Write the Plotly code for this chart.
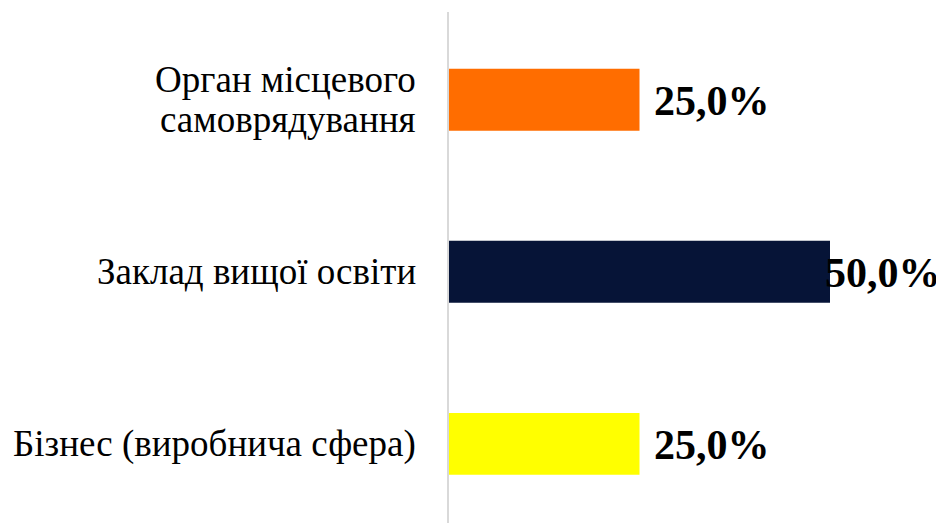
import plotly.graph_objects as go

categories = ["Бізнес (виробнича сфера)", "Заклад вищої освіти", "Орган місцевого<br>самоврядування"]
values = [0.25, 0.50, 0.25]
labels = ["25,0%", "50,0%", "25,0%"]
colors = ["#FFFF00", "#061437", "#FF6D00"]
label_shifts = [12, -7, 12]

FONT = "Liberation Serif, Times New Roman, serif"

fig = go.Figure()
fig.add_trace(go.Bar(
    y=list(range(len(categories))),
    x=values,
    orientation="h",
    marker=dict(color=colors, line=dict(width=0)),
    hoverinfo="skip",
))

# value labels
for i, (v, t, s) in enumerate(zip(values, labels, label_shifts)):
    fig.add_annotation(
        x=v, y=i, text=t, showarrow=False, xanchor="left", yanchor="middle",
        xshift=s, yshift=-1,
        font=dict(family=FONT, size=42, color="#000000", weight="bold"),
    )

# category labels (drawn as annotations to control line spacing)
line_gap = 40
for i, cat in enumerate(categories):
    lines = cat.split("<br>")
    n = len(lines)
    for k, ln in enumerate(lines):
        fig.add_annotation(
            xref="paper", x=0, y=i, text=ln, showarrow=False,
            xanchor="right", yanchor="middle",
            xshift=-31, yshift=(n - 1) / 2 * line_gap - k * line_gap,
            font=dict(family=FONT, size=37, color="#000000"),
        )

fig.update_layout(
    width=944, height=525,
    margin=dict(l=441, r=122, t=4, b=10),
    paper_bgcolor="white", plot_bgcolor="white",
    bargap=0.64,
    showlegend=False,
    font=dict(family=FONT, size=37, color="#000000"),
)
fig.update_xaxes(range=[0, 0.5], visible=False, showgrid=False, zeroline=False,
                 automargin=False)
fig.update_yaxes(
    range=[-0.46, 2.51],
    tickmode="array",
    tickvals=list(range(len(categories))),
    showticklabels=False,
    showline=True, linecolor="#D9D9D9", linewidth=1.5,
    showgrid=False, zeroline=False,
    ticks="", automargin=False,
)

fig.write_html("out.html")
